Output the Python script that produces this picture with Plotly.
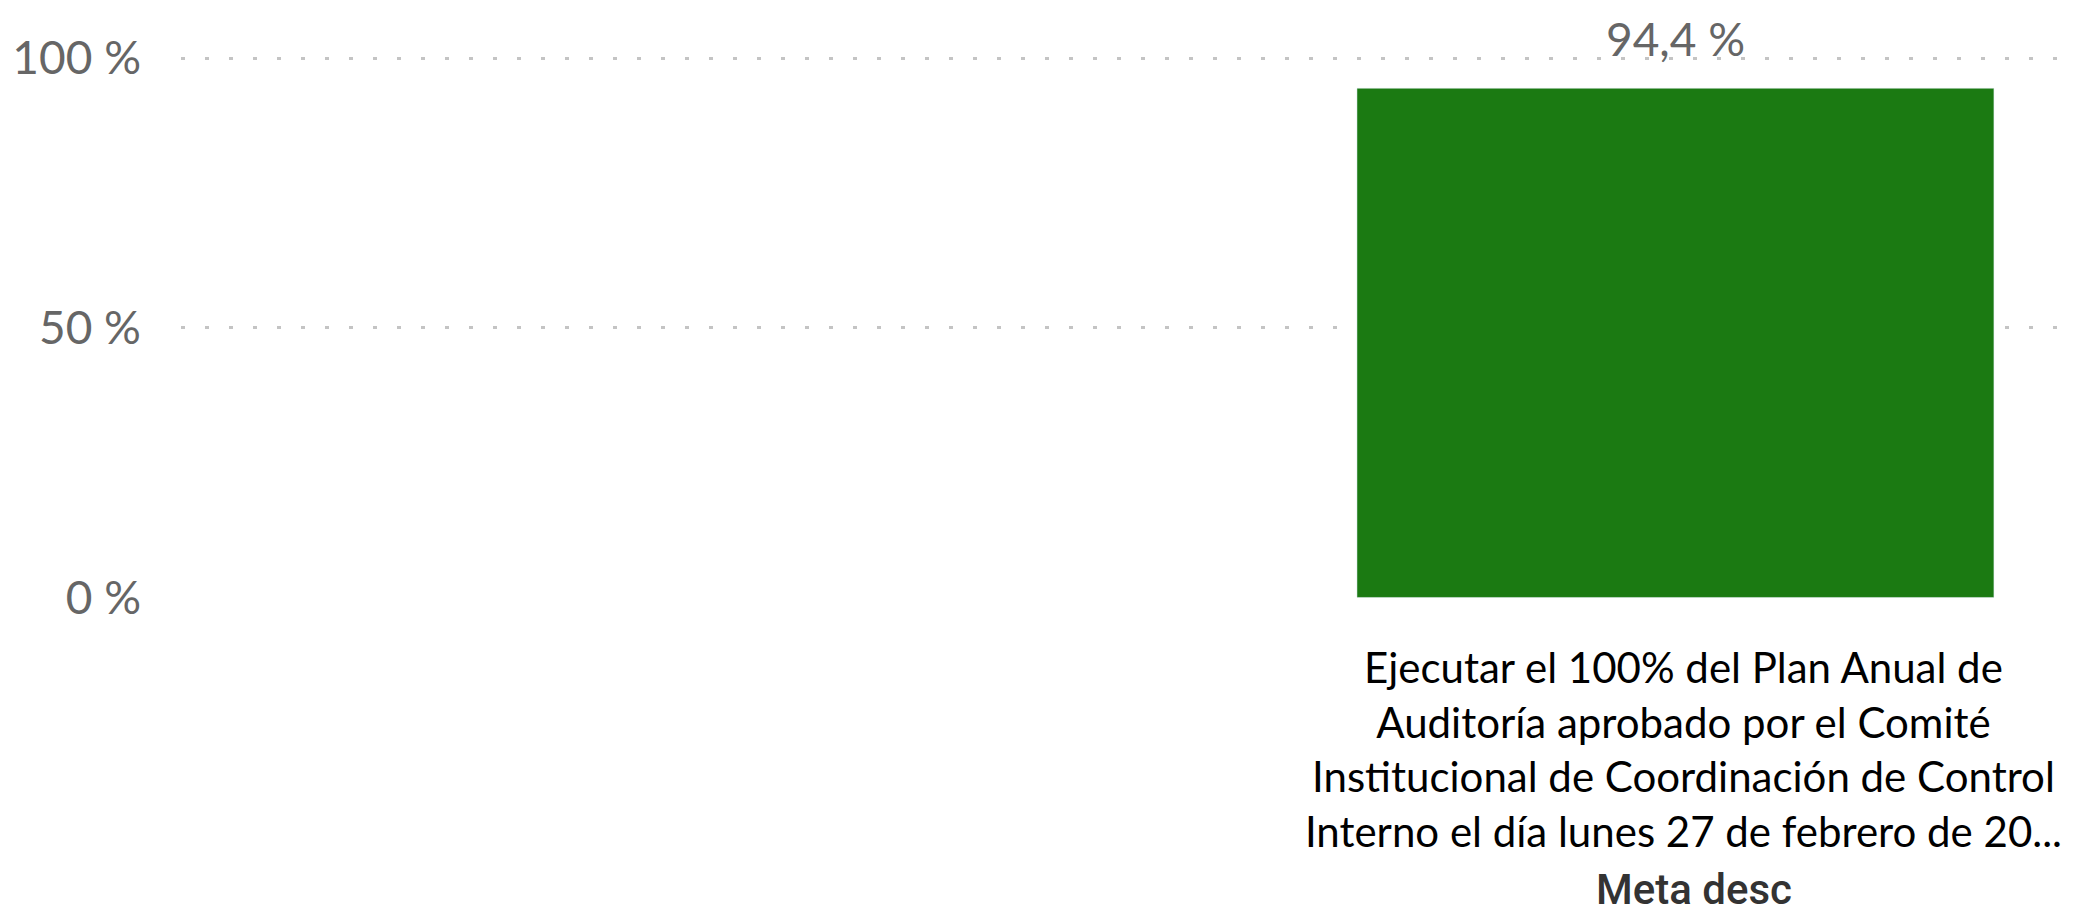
import plotly.graph_objects as go

# datos
categorias = ["Ejecutar el 100% del Plan Anual de<br>Auditoría aprobado por el Comité<br>"
              "Institucional de Coordinación de Control<br>Interno el día lunes 27 de febrero de 20..."]
valores = [94.4]
ticks_y = [0, 50, 100]
texto_ticks_y = ["0 %", "50 %", "100 %"]
titulo_x = "Meta desc"

fig = go.Figure()
fig.add_trace(go.Bar(x=categorias, y=valores, marker_color="#1b7a12", width=0.8))

# etiqueta del valor por encima de la linea de 100 %
for c, v in zip(categorias, valores):
    fig.add_annotation(x=c, y=v, text=f"{v:.1f} %".replace(".", ","), showarrow=False,
                       xanchor="center", yanchor="bottom", yshift=20,
                       font=dict(family="Lato", size=46, color="#666666"))

# titulo del eje x debajo de la etiqueta
fig.add_annotation(xref="x", yref="paper", x=categorias[0], y=0, yshift=-291, xshift=19,
                   xanchor="center", yanchor="middle", text=titulo_x, showarrow=False,
                   font=dict(family="Roboto", size=42, color="#333333", weight=500))

# la pagina tiene 8px de margen, por eso el tamaño es 8px menor
fig.update_layout(
    width=2067, height=898,
    margin=dict(l=173, r=15, t=49, b=308, autoexpand=False),
    plot_bgcolor="white", paper_bgcolor="white",
    showlegend=False,
)
fig.update_xaxes(range=[-1.877, 0.483], showgrid=False, ticks="", automargin=False,
                 ticklabelshift=8, ticklabelstandoff=42,
                 tickfont=dict(family="Lato", size=42, color="#000000"))
fig.update_yaxes(range=[-0.1, 100.2], tickvals=ticks_y, ticktext=texto_ticks_y, zeroline=False,
                 automargin=False, gridcolor="#c4c4c4", gridwidth=3, griddash="4px,20px",
                 tickfont=dict(family="Lato", size=46, color="#666666"), ticklabelstandoff=39)

fig.write_html("out.html")
